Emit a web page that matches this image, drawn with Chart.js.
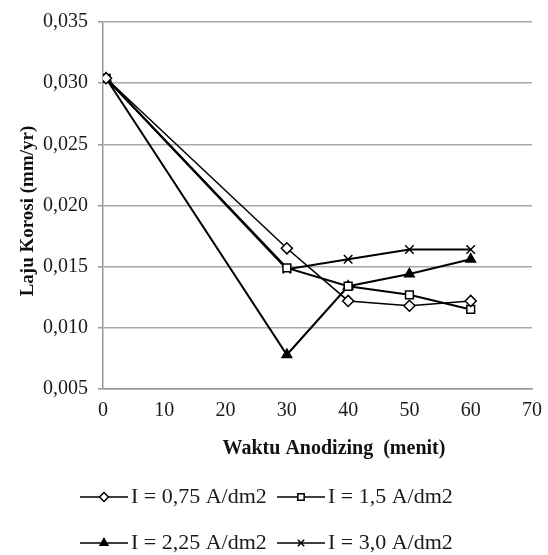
<!DOCTYPE html>
<html>
<head>
<meta charset="utf-8">
<script src="https://cdn.jsdelivr.net/npm/chart.js@4/dist/chart.umd.min.js"></script>
<style>
  html, body { margin: 0; padding: 0; background: #fff; }
  canvas { display: block; }
</style>
</head>
<body>
<canvas id="chart" width="548" height="555"></canvas>
<script>
const minutes = [0.5, 30, 40, 50, 60];
const i075 = [0.0304, 0.0165, 0.0122, 0.0118, 0.0122];
const i15 = [0.0304, 0.0149, 0.0134, 0.0127, 0.0115];
const i225 = [0.0304, 0.0078, 0.0134, 0.0144, 0.0156];
const i30 = [0.0304, 0.0148, 0.0156, 0.0164, 0.0164];
const seriesLabels = ["I = 0,75 A/dm2", "I = 1,5 A/dm2", "I = 2,25 A/dm2", "I = 3,0 A/dm2"];
const xTitle = "Waktu Anodizing  (menit)";
const yTitle = "Laju Korosi (mm/yr)";

const serif = "'Liberation Serif', 'Times New Roman', serif";
Chart.defaults.font.family = serif;
Chart.defaults.color = "#1a1a1a";

const styles = [
  { pointStyle: "rectRot", fill: "#fff", width: 1.5, radius: 5.5 },
  { pointStyle: "rect", fill: "#fff", width: 2, radius: 5.5 },
  { pointStyle: "triangle", fill: "#000", width: 2, radius: 5.5 },
  { pointStyle: "crossRot", fill: "#000", width: 2, radius: 6 },
];

function toPoints(ys) {
  return ys.map((y, i) => ({ x: minutes[i], y: y }));
}

const allSeries = [i075, i15, i225, i30];

// axis titles sit a bit off-centre in the original, so draw them by hand
const titlesPlugin = {
  id: "axisTitles",
  afterDraw(chart) {
    const ctx = chart.ctx;
    ctx.save();
    ctx.fillStyle = "#111";
    ctx.textAlign = "center";
    ctx.textBaseline = "middle";
    ctx.font = "bold 20px " + serif;
    ctx.fillText(xTitle, 334, 449);
    ctx.translate(28, 211);
    ctx.rotate(-Math.PI / 2);
    ctx.font = "bold 19px " + serif;
    ctx.fillText(yTitle, 0, 0);
    ctx.restore();
  },
};

const legendPlugin = {
  id: "excelLegend",
  afterDraw(chart) {
    const ctx = chart.ctx;
    const cols = [80, 277];
    const rows = [497, 543];
    ctx.save();
    chart.data.datasets.forEach((ds, i) => {
      const x0 = cols[i % 2];
      const y = rows[Math.floor(i / 2)];
      const st = styles[i];
      ctx.strokeStyle = "#000";
      ctx.lineWidth = 1.5;
      ctx.beginPath();
      ctx.moveTo(x0, y);
      ctx.lineTo(x0 + 48, y);
      ctx.stroke();
      ctx.fillStyle = st.fill;
      Chart.helpers.drawPoint(ctx, {
        pointStyle: st.pointStyle,
        radius: 4.5,
        rotation: 0,
        borderWidth: 1.5,
      }, x0 + 24, y);
      ctx.fillStyle = "#1a1a1a";
      ctx.font = "22px " + serif;
      ctx.textBaseline = "middle";
      ctx.textAlign = "left";
      ctx.fillText(ds.label, x0 + 51, y);
    });
    ctx.restore();
  },
};

new Chart(document.getElementById("chart").getContext("2d"), {
  type: "scatter",
  data: {
    datasets: allSeries.map((ys, i) => ({
      label: seriesLabels[i],
      data: toPoints(ys),
      showLine: true,
      borderColor: "#000",
      borderWidth: styles[i].width,
      pointStyle: styles[i].pointStyle,
      pointRadius: styles[i].radius,
      pointBackgroundColor: styles[i].fill,
      pointBorderColor: "#000",
      pointBorderWidth: 1.5,
      tension: 0,
    })),
  },
  plugins: [titlesPlugin, legendPlugin],
  options: {
    responsive: false,
    animation: false,
    layout: { padding: { left: 0, right: 14, top: 15, bottom: 97 } },
    plugins: {
      legend: { display: false },
      tooltip: { enabled: false },
    },
    scales: {
      x: {
        type: "linear",
        min: 0,
        max: 70,
        afterFit: (s) => { s.height = 69; },
        ticks: {
          stepSize: 10,
          padding: 6,
          font: { size: 20 },
          color: "#1a1a1a",
        },
        grid: { display: false, drawTicks: true, tickLength: 4, tickColor: "#999" },
        border: { color: "#9a9a9a", width: 1.5 },
      },
      y: {
        min: 0.005,
        max: 0.035,
        afterFit: (s) => { s.width = 103; },
        ticks: {
          stepSize: 0.005,
          padding: 10,
          font: { size: 20 },
          color: "#1a1a1a",
          callback: (v) => v.toFixed(3).replace(".", ","),
        },
        grid: { color: "#a8a8a8", lineWidth: 1.5, tickLength: 5, tickColor: "#999" },
        border: { color: "#9a9a9a", width: 1.5 },
      },
    },
  },
});
</script>
</body>
</html>
